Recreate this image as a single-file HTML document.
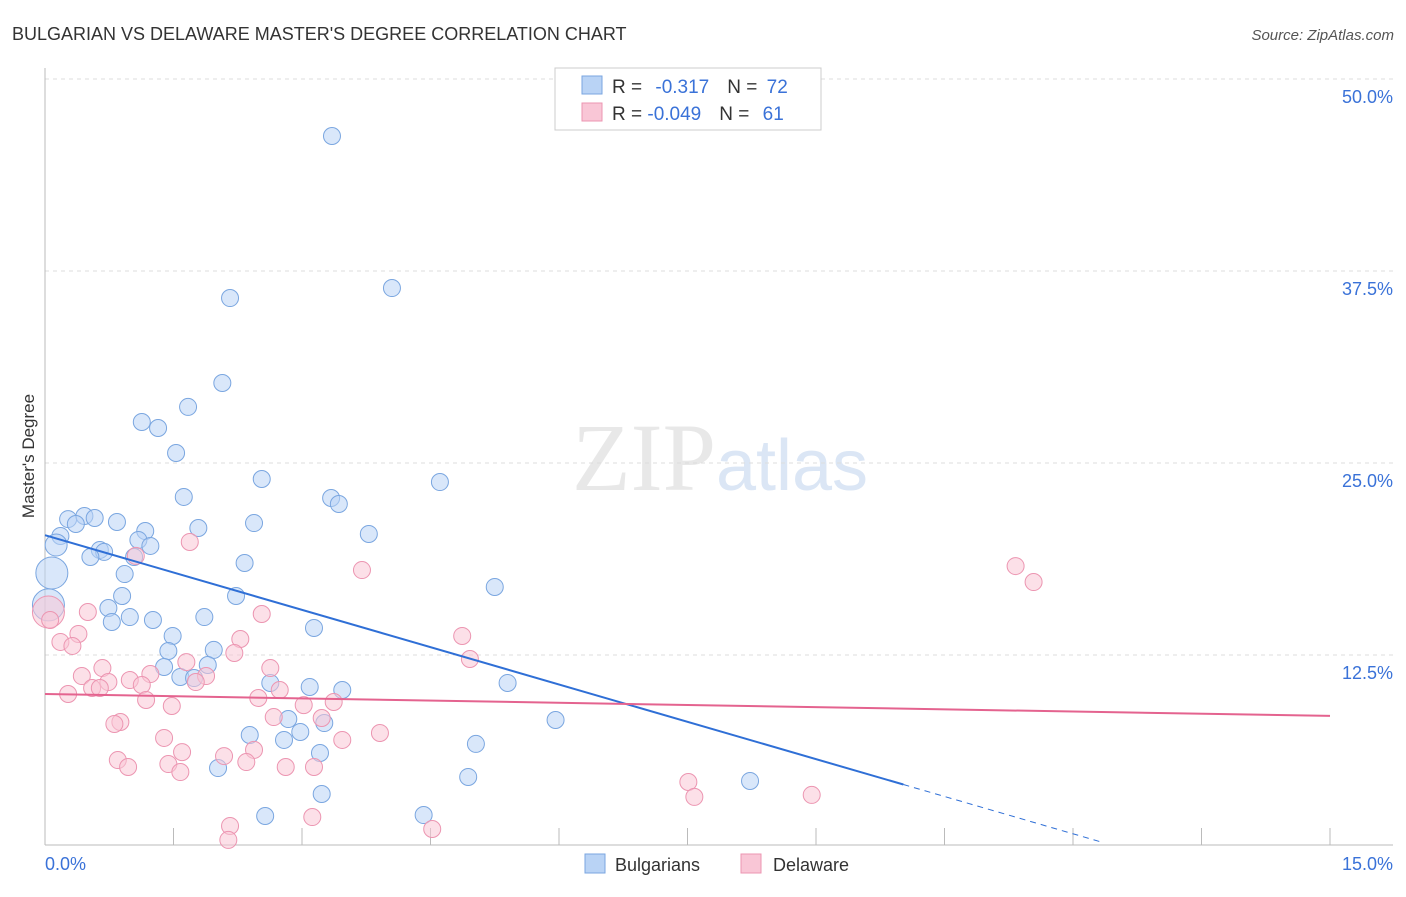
<!DOCTYPE html>
<html><head><meta charset="utf-8"><style>
body{margin:0;background:#fff;font-family:"Liberation Sans",sans-serif;}
svg text{font-family:"Liberation Sans",sans-serif;}
</style></head><body>
<svg id="chart" width="1406" height="892" viewBox="0 0 1406 892">
<text x="12" y="40" font-size="18" fill="#333">BULGARIAN VS DELAWARE MASTER'S DEGREE CORRELATION CHART</text>
<text x="1394" y="40" font-size="15" fill="#555" text-anchor="end" font-style="italic">Source: ZipAtlas.com</text>
<text x="720" y="490" font-size="96" fill="#e8e8e8" text-anchor="middle" font-family="Liberation Serif"><tspan font-family="Liberation Serif">ZIP</tspan><tspan fill="#dbe6f5" font-family="Liberation Sans" font-size="72">atlas</tspan></text>
<text transform="translate(34,456) rotate(-90)" font-size="17" fill="#333" text-anchor="middle">Master's Degree</text>
<g id="grid"></g><g id="marks"></g>
<g>
<rect x="555" y="68" width="266" height="62" fill="#fff" stroke="#ccc"/>
<rect x="582" y="76" width="20" height="18" fill="#b9d3f5" stroke="#7aa6e0"/>
<rect x="582" y="103" width="20" height="18" fill="#f9c6d6" stroke="#ec95b1"/>
<text x="612" y="93" font-size="19" fill="#333">R = <tspan fill="#3a72d8" dx="8">-0.317</tspan><tspan fill="#333" dx="18">N = </tspan><tspan fill="#3a72d8" dx="4">72</tspan></text>
<text x="612" y="120" font-size="19" fill="#333">R = <tspan fill="#3a72d8">-0.049</tspan><tspan fill="#333" dx="18">N = </tspan><tspan fill="#3a72d8" dx="8">61</tspan></text>
</g>
<g>
<rect x="585" y="854" width="20" height="19" fill="#b9d3f5" stroke="#7aa6e0"/>
<text x="615" y="871" font-size="18" fill="#333">Bulgarians</text>
<rect x="741" y="854" width="20" height="19" fill="#f9c6d6" stroke="#ec95b1"/>
<text x="773" y="871" font-size="18" fill="#333">Delaware</text>
</g>
</svg>
<script>
const yTicks=[12.5,25,37.5,50];
const yTickLabels=["12.5%","25.0%","37.5%","50.0%"];
const xTickCount=10;
const blueX=[3.35,4.05,2.16,2.07,1.67,1.13,1.32,1.53,2.53,4.61,1.62,3.34,3.43,0.27,0.46,0.58,0.84,1.79,2.44,1.17,3.78,0.18,0.36,0.13,1.09,1.23,0.64,0.69,0.53,1.04,2.33,0.08,0.93,5.25,2.23,0.90,0.74,0.99,1.26,1.86,0.78,3.14,1.49,1.44,1.97,1.90,1.39,1.58,1.74,2.63,3.09,3.47,5.96,5.40,2.84,3.26,2.98,2.39,2.79,5.03,3.21,2.02,4.94,8.23,3.23,2.57,4.42,0.04];
const blueY=[46.29,36.39,35.74,30.21,28.65,27.67,27.28,25.65,23.96,23.76,22.79,22.72,22.33,21.35,21.55,21.42,21.16,20.77,21.09,20.57,20.38,20.25,21.03,19.66,19.99,19.60,19.34,19.21,18.88,18.88,18.49,17.84,17.77,16.93,16.34,16.34,15.56,14.97,14.78,14.97,14.65,14.26,13.74,12.76,12.83,11.85,11.72,11.07,11.00,10.68,10.42,10.22,8.27,10.68,8.33,8.07,7.49,7.29,6.97,6.71,6.12,5.14,4.56,4.30,3.45,2.02,2.08,15.76];
const pinkX=[1.69,1.06,11.33,11.54,3.70,0.04,0.50,2.53,0.06,0.39,4.87,2.28,0.18,0.32,2.21,4.96,0.67,1.65,2.63,1.23,0.43,1.88,1.76,0.74,0.99,1.13,0.55,0.64,2.74,0.27,2.49,1.18,1.48,3.02,3.37,3.23,2.67,0.88,0.81,3.91,1.39,3.47,1.60,2.44,2.09,0.85,2.35,1.44,0.97,2.81,3.14,1.58,7.51,7.58,8.95,3.12,2.16,4.52,2.14];
const pinkY=[19.86,18.95,18.29,17.25,18.03,15.30,15.30,15.17,14.78,13.87,13.74,13.54,13.35,13.09,12.63,12.24,11.65,12.04,11.65,11.26,11.13,11.13,10.74,10.74,10.87,10.55,10.35,10.35,10.22,9.96,9.70,9.57,9.18,9.24,9.44,8.40,8.46,8.14,8.01,7.42,7.10,6.97,6.18,6.32,5.92,5.66,5.53,5.40,5.21,5.21,5.21,4.88,4.23,3.26,3.39,1.95,1.37,1.17,0.46];
const blueTrend=[20.3,-1.62];
const pinkTrend=[9.96,-0.095];
const X0=45,X1=1330,Y0=847;
const sx=v=>X0+v/15*(X1-X0);
const sy=v=>Y0-v/50*(Y0-79);
const NS="http://www.w3.org/2000/svg";
function mk(t,a,p){const e=document.createElementNS(NS,t);for(const k in a)e.setAttribute(k,a[k]);p.appendChild(e);return e;}
const g=document.getElementById('grid'),m=document.getElementById('marks');
yTicks.forEach((t,i)=>{
 const l=mk('line',{x1:45,x2:1393,y1:sy(t),y2:sy(t),stroke:'#ddd','stroke-dasharray':'4,4'},g);
 
 
 const tx=mk('text',{x:1393,y:sy(t)+24,'font-size':18,fill:'#3a72d8','text-anchor':'end'},g);
 tx.textContent=yTickLabels[i];
 
 
});
const ax=mk('line',{x1:45,x2:1393,y1:845,y2:845,stroke:'#bbb'},g);


const ay=mk('line',{x1:45,x2:45,y1:68,y2:845,stroke:'#bbb'},g);


for(let i=0;i<=xTickCount;i++){const x=sx(15*i/xTickCount);
 const t=mk('line',{x1:x,x2:x,y1:828,y2:845,stroke:'#bbb'},g);
 
 }
const xl0=mk('text',{x:45,y:870,'font-size':18,fill:'#3a72d8'},g);xl0.textContent='0.0%';


const xl1=mk('text',{x:1393,y:870,'font-size':18,fill:'#3a72d8','text-anchor':'end'},g);xl1.textContent='15.0%';


function pts(xs,ys,fill,stroke,name){xs.forEach((x,i)=>{
 const r=(x<0.1&&ys[i]>15)?16:(x<0.15&&ys[i]>17?11:8.5);
 const c=mk('circle',{cx:sx(x),cy:sy(ys[i]),r:r,fill:fill,stroke:stroke,'stroke-width':1,'fill-opacity':0.55},m);
 
 });}
pts(blueX,blueY,'#b9d3f5','#7aa6e0','bulgarian-point');
pts(pinkX,pinkY,'#f9c6d6','#ec95b1','delaware-point');
const bEnd=10.02,bx2=(0-blueTrend[0])/blueTrend[1]*0.985;
const bl=mk('line',{x1:sx(0),y1:sy(blueTrend[0]),x2:sx(bEnd),y2:sy(blueTrend[0]+blueTrend[1]*bEnd),stroke:'#2f6fd6','stroke-width':2},m);


const bd=mk('line',{x1:sx(bEnd),y1:sy(blueTrend[0]+blueTrend[1]*bEnd),x2:sx(bx2),y2:sy(blueTrend[0]+blueTrend[1]*bx2),stroke:'#2f6fd6','stroke-width':1,'stroke-dasharray':'6,5'},m);


const pl=mk('line',{x1:sx(0),y1:sy(pinkTrend[0]),x2:sx(15),y2:sy(pinkTrend[0]+pinkTrend[1]*15),stroke:'#e4638f','stroke-width':2},m);


</script>
</body></html>
